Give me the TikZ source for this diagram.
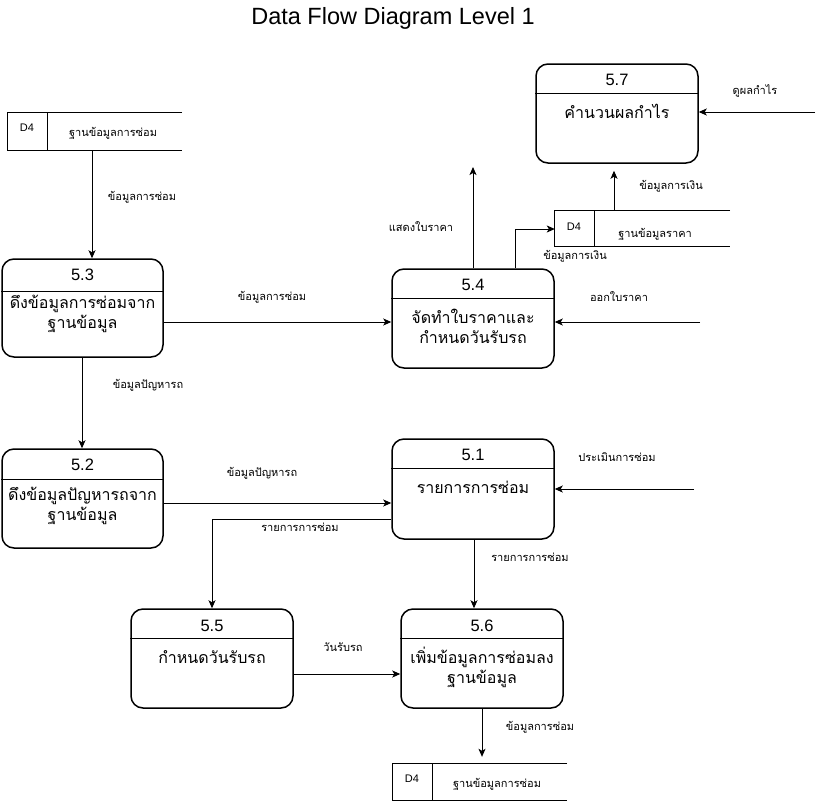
\documentclass[tikz,border=0pt]{standalone}
\usepackage{fontspec}
\setmainfont{Liberation Sans}
\newfontfamily\thai[Script=Thai]{Loma}
\usetikzlibrary{arrows.meta}
\tikzset{
  proc/.style={draw, line width=1.5pt, rounded corners=12pt, inner sep=0pt},
  storebox/.style={inner sep=0pt},
  arr/.style={line width=1pt, -{Stealth[length=8pt,width=7pt,inset=2pt]}},
  ln/.style={line width=1pt},
  num/.style={font=\fontsize{16.5}{19}\selectfont},
  plabel/.style={font=\thai\fontsize{16}{20}\selectfont, align=center},
  elabel/.style={font=\thai\fontsize{11}{13}\selectfont},
  slabel/.style={font=\thai\fontsize{11}{13}\selectfont},
  dfour/.style={font=\fontsize{11}{13}\selectfont},
}
\begin{document}
\begin{tikzpicture}[x=1pt,y=-1pt]
\useasboundingbox (0,0) rectangle (821,806);
\node[font=\fontsize{23.5}{27}\selectfont] (title) at (393,18) {Data Flow Diagram Level 1};

% processes
\node[proc, minimum width=162pt, minimum height=99pt] (p57) at (617,113.5) {};
\draw[line width=1pt] (p57.west |- 0,93) -- (p57.east |- 0,93);
\node[num] at (617,80) {5.7};
\node[plabel] at (617,111) {คำนวนผลกำไร};

\node[proc, minimum width=161pt, minimum height=98pt] (p53) at (82.5,308) {};
\draw[line width=1pt] (p53.west |- 0,291) -- (p53.east |- 0,291);
\node[num] at (82.5,275) {5.3};
\node[plabel] at (82.5,313.5) {ดึงข้อมูลการซ่อมจาก\\ฐานข้อมูล};

\node[proc, minimum width=162pt, minimum height=99pt] (p54) at (473,318.5) {};
\draw[line width=1pt] (p54.west |- 0,298) -- (p54.east |- 0,298);
\node[num] at (473,285) {5.4};
\node[plabel] at (473,326) {จัดทำใบราคาและ\\กำหนดวันรับรถ};

\node[proc, minimum width=161pt, minimum height=99pt] (p52) at (82.5,498.5) {};
\draw[line width=1pt] (p52.west |- 0,479) -- (p52.east |- 0,479);
\node[num] at (82.5,465) {5.2};
\node[plabel] at (82.5,506) {ดึงข้อมูลปัญหารถจาก\\ฐานข้อมูล};

\node[proc, minimum width=162pt, minimum height=100pt] (p51) at (473,489) {};
\draw[line width=1pt] (p51.west |- 0,468) -- (p51.east |- 0,468);
\node[num] at (473,455) {5.1};
\node[plabel] at (473,487) {รายการการซ่อม};

\node[proc, minimum width=162pt, minimum height=99pt] (p55) at (212,658.5) {};
\draw[line width=1pt] (p55.west |- 0,638) -- (p55.east |- 0,638);
\node[num] at (212,626) {5.5};
\node[plabel] at (212,657) {กำหนดวันรับรถ};

\node[proc, minimum width=162pt, minimum height=99pt] (p56) at (482,658.5) {};
\draw[line width=1pt] (p56.west |- 0,638) -- (p56.east |- 0,638);
\node[num] at (482,626) {5.6};
\node[plabel] at (482,667) {เพิ่มข้อมูลการซ่อมลง\\ฐานข้อมูล};

% data stores
\node[storebox, minimum width=174pt, minimum height=37pt] (s1) at (95,131.5) {};
\draw[ln] (s1.north east) -- (s1.north west) -- (s1.south west) -- (s1.south east);
\draw[ln] (47,113) -- (47,150);
\node[dfour] at (27,128) {D4};
\node[slabel] at (113,133) {ฐานข้อมูลการซ่อม};

\node[storebox, minimum width=175pt, minimum height=35pt] (s2) at (642.5,228.5) {};
\draw[ln] (s2.north east) -- (s2.north west) -- (s2.south west) -- (s2.south east);
\draw[ln] (594,211) -- (594,246);
\node[dfour] at (574,227) {D4};
\node[slabel] at (655,234) {ฐานข้อมูลราคา};

\node[storebox, minimum width=174pt, minimum height=36pt] (s3) at (480,782) {};
\draw[ln] (s3.north east) -- (s3.north west) -- (s3.south west) -- (s3.south east);
\draw[ln] (432,764) -- (432,800);
\node[dfour] at (412,779) {D4};
\node[slabel] at (497,784) {ฐานข้อมูลการซ่อม};

% free ends
\coordinate (e54up) at (473,167);
\coordinate (e57in) at (815,112);
\coordinate (e54in) at (700,322);
\coordinate (e51in) at (694,489);
\coordinate (bend) at (515,229);

% connectors
\draw[arr] (s1.south -| 92,0) -- (p53.north -| 92,0);
\node[elabel] at (142,197) {ข้อมูลการซ่อม};

\draw[arr] (p53.south -| 82,0) -- (p52.north -| 82,0);
\node[elabel] at (148,385) {ข้อมูลปัญหารถ};

\draw[arr] (p53.east |- 0,322) -- (p54.west |- 0,322);
\node[elabel] at (272,297) {ข้อมูลการซ่อม};

\draw[arr] (p54.north -| e54up) -- (e54up);
\node[elabel] at (421,227) {แสดงใบราคา};

\draw[arr] (p54.north -| bend) -- (bend) -- (s2.west |- bend);
\node[elabel] at (575,256) {ข้อมูลการเงิน};

\draw[arr] (s2.north -| 614,0) -- ([yshift=-7pt]p57.south -| 614,0);
\node[elabel] at (671,186) {ข้อมูลการเงิน};

\draw[arr] (e57in) -- (p57.east |- e57in);
\node[elabel] at (755,91) {ดูผลกำไร};

\draw[arr] (e54in) -- (p54.east |- e54in);
\node[elabel] at (619,297) {ออกใบราคา};

\draw[arr] (p52.east |- 0,503) -- (p51.west |- 0,503);
\node[elabel] at (262,473) {ข้อมูลปัญหารถ};

\draw[arr] (p51.west |- 0,519) -| (p55.north);
\node[elabel] at (300,527) {รายการการซ่อม};

\draw[arr] (e51in) -- (p51.east |- e51in);
\node[elabel] at (617,457) {ประเมินการซ่อม};

\draw[arr] (p51.south -| 474,0) -- (p56.north -| 474,0);
\node[elabel] at (530,557) {รายการการซ่อม};

\draw[arr] (p55.east |- 0,674) -- (p56.west |- 0,674);
\node[elabel] at (343,647) {วันรับรถ};

\draw[arr] (p56.south) -- ([yshift=7pt]s3.north -| p56.south);
\node[elabel] at (540,727) {ข้อมูลการซ่อม};
\end{tikzpicture}
\end{document}
